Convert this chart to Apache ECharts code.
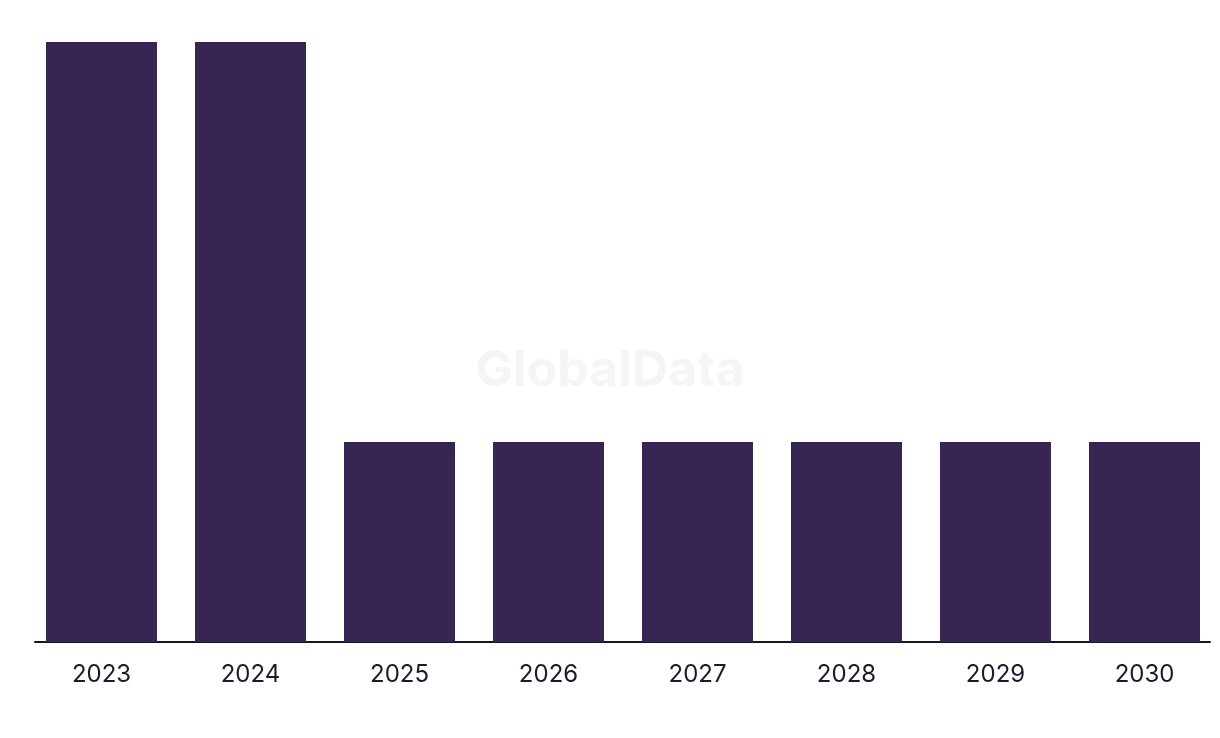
<!DOCTYPE html>
<html>
<head>
<meta charset="utf-8">
<script src="https://cdn.jsdelivr.net/npm/echarts@6/dist/echarts.min.js"></script>
<style>
html,body{margin:0;padding:0;background:#fff;}
#chart{width:1220px;height:738px;}
</style>
</head>
<body>
<div id="chart"></div>
<script>
const categories = ['2023','2024','2025','2026','2027','2028','2029','2030'];
const values = [3, 3, 1, 1, 1, 1, 1, 1];

const chart = echarts.init(document.getElementById('chart'));
chart.setOption({
  animation: false,
  backgroundColor: '#ffffff',
  graphic: [{
    type: 'text', left: 'center', top: 346, z: 0,
    style: { text: 'GlobalData', fontFamily: 'Inter', fontWeight: 'bold', fontSize: 50, fill: '#f5f5f5' }
  }],
  grid: [
    { left: 27, right: 1, top: 42, bottom: 96 },
    { left: 35, right: 10, top: 42, bottom: 96 }
  ],
  xAxis: [{
    type: 'category', data: categories, gridIndex: 0,
    axisLine: { show: false }, axisTick: { show: false },
    axisLabel: { fontFamily: 'Inter', fontSize: 24, color: '#1c1a2e', margin: 21 }
  }, {
    type: 'category', data: categories, gridIndex: 1,
    axisLine: { show: true, lineStyle: { color: '#171526', width: 2 } },
    axisTick: { show: false }, axisLabel: { show: false }
  }],
  yAxis: [{
    type: 'value', min: 0, max: 3, gridIndex: 0,
    axisLine: { show: false }, axisTick: { show: false }, axisLabel: { show: false }, splitLine: { show: false }
  }, {
    type: 'value', min: 0, max: 3, gridIndex: 1,
    axisLine: { show: false }, axisTick: { show: false }, axisLabel: { show: false }, splitLine: { show: false }
  }],
  series: [{
    type: 'bar', data: values, xAxisIndex: 0, yAxisIndex: 0,
    barWidth: 111, itemStyle: { color: '#372554' }, z: 2
  }]
});
</script>
</body>
</html>
